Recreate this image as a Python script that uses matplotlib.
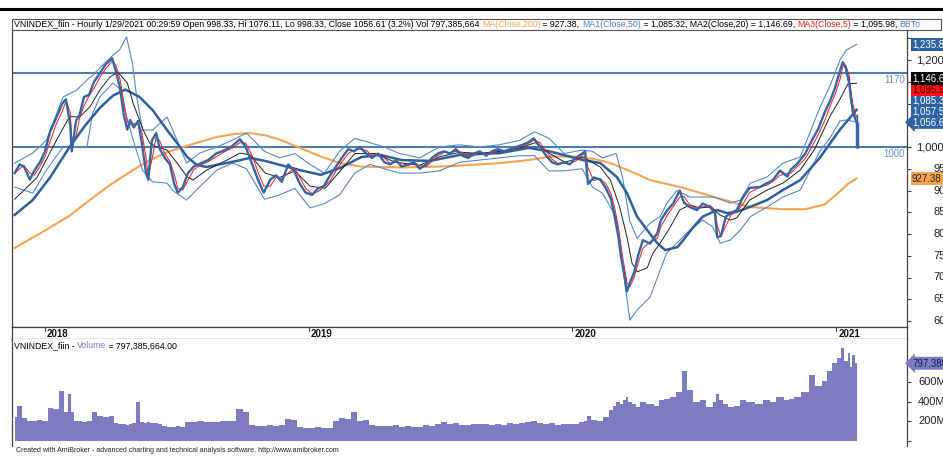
import matplotlib
matplotlib.use('Agg')
import matplotlib.pyplot as plt
import matplotlib.dates as mdates
from matplotlib.lines import Line2D
from matplotlib.patches import Rectangle
import pandas as pd

plt.rcParams['font.family'] = ['Liberation Sans', 'DejaVu Sans']

# ---- data ----
dates = [
    '2017-11-20', '2017-11-27', '2017-12-03', '2017-12-11', '2017-12-17', '2017-12-25',
    '2018-01-01', '2018-01-08', '2018-01-16', '2018-01-25', '2018-01-30', '2018-02-05',
    '2018-02-07', '2018-02-13', '2018-02-18', '2018-02-24', '2018-03-03', '2018-03-10',
    '2018-03-18', '2018-03-26', '2018-04-04', '2018-04-09', '2018-04-15', '2018-04-20',
    '2018-04-25', '2018-04-29', '2018-05-04', '2018-05-10', '2018-05-15', '2018-05-21',
    '2018-05-24', '2018-05-29', '2018-06-04', '2018-06-09', '2018-06-16', '2018-06-23',
    '2018-06-29', '2018-07-04', '2018-07-11', '2018-07-18', '2018-07-26', '2018-08-04',
    '2018-08-15', '2018-08-26', '2018-09-06', '2018-09-17', '2018-09-28', '2018-10-06',
    '2018-10-15', '2018-10-23', '2018-10-31', '2018-11-09', '2018-11-17', '2018-11-25',
    '2018-12-04', '2018-12-12', '2018-12-20', '2018-12-28', '2019-01-06', '2019-01-14',
    '2019-01-22', '2019-01-31', '2019-02-08', '2019-02-16', '2019-02-25', '2019-03-05',
    '2019-03-13', '2019-03-22', '2019-03-30', '2019-04-07', '2019-04-16', '2019-04-24',
    '2019-05-02', '2019-05-10', '2019-05-19', '2019-05-27', '2019-06-04', '2019-06-13',
    '2019-06-21', '2019-06-29', '2019-07-08', '2019-07-16', '2019-07-24', '2019-08-02',
    '2019-08-10', '2019-08-18', '2019-08-26', '2019-09-04', '2019-09-12', '2019-09-20',
    '2019-09-29', '2019-10-07', '2019-10-15', '2019-10-24', '2019-11-01', '2019-11-09',
    '2019-11-18', '2019-11-26', '2019-12-04', '2019-12-12', '2019-12-21', '2019-12-29',
    '2020-01-06', '2020-01-15', '2020-01-19', '2020-01-23', '2020-01-31', '2020-02-09',
    '2020-02-17', '2020-02-24', '2020-02-29', '2020-03-05', '2020-03-09', '2020-03-13',
    '2020-03-17', '2020-03-21', '2020-03-27', '2020-04-01', '2020-04-08', '2020-04-18',
    '2020-04-28', '2020-05-03', '2020-05-12', '2020-05-20', '2020-05-29', '2020-06-04',
    '2020-06-12', '2020-06-22', '2020-06-30', '2020-07-10', '2020-07-17', '2020-07-20',
    '2020-07-25', '2020-08-01', '2020-08-08', '2020-08-16', '2020-08-25', '2020-09-03',
    '2020-09-17', '2020-09-27', '2020-10-05', '2020-10-15', '2020-10-25', '2020-10-30',
    '2020-11-08', '2020-11-19', '2020-11-28', '2020-12-07', '2020-12-16', '2020-12-23',
    '2020-12-30', '2021-01-06', '2021-01-10', '2021-01-14', '2021-01-19', '2021-01-21',
    '2021-01-24', '2021-01-29',
]
close = [
    940, 960, 955, 925, 945, 965,
    990, 1035, 1065, 1100, 1110, 1050,
    990, 1060, 1075, 1115, 1120, 1150,
    1170, 1190, 1204, 1175, 1135, 1075,
    1040, 1062, 1045, 1060, 1010, 940,
    925, 1015, 1032, 995, 975, 960,
    915, 895, 908, 940, 955, 962,
    970, 985, 992, 1002, 1018, 1000,
    960, 925, 895, 925, 935, 920,
    960, 945, 915, 895, 890, 905,
    910, 935, 955, 975, 995, 990,
    1000, 985, 975, 985, 965, 960,
    970, 955, 960, 965, 950, 960,
    975, 985, 990, 985, 995, 980,
    975, 985, 990, 980, 990, 995,
    990, 995, 1000, 1005, 1010, 1020,
    1000, 980, 965, 960, 965, 960,
    975, 985, 990, 915, 930, 925,
    905, 880, 840, 795, 745, 710,
    668, 688, 712, 748, 786, 778,
    802, 832, 855, 870, 900, 872,
    862, 855, 870, 862, 848, 793,
    795, 840, 848, 855, 885, 906,
    908, 917, 924, 946, 932, 948,
    962, 985, 1015, 1042, 1080, 1105,
    1135, 1175, 1195, 1182, 1145, 1115,
    1080, 1056.61,
]
# volume in millions
volume = [
    250, 360, 240, 210, 200, 215,
    205, 340, 330, 510, 300, 480,
    300, 210, 200, 195, 210, 300,
    260, 250, 255, 180, 170, 175,
    165, 170, 180, 400, 190, 180,
    190, 180, 185, 175, 150, 145,
    140, 150, 145, 195, 190, 200,
    195, 190, 200, 200, 330, 300,
    160, 155, 150, 160, 150, 160,
    225, 220, 140, 135, 130, 140,
    130, 135, 200, 240, 230, 300,
    210, 220, 160, 150, 155, 150,
    160, 140, 150, 145, 140, 160,
    155, 170, 190, 175, 180, 160,
    165, 170, 175, 170, 165, 175,
    160, 185, 170, 180, 190, 200,
    185, 175, 180, 160, 170, 175,
    170, 190, 200, 260, 220, 210,
    250, 320, 360, 400, 380, 420,
    450, 400, 380, 350, 400, 380,
    360, 420, 430, 450, 500, 720,
    520, 400, 420, 350, 400, 480,
    420, 380, 350, 360, 420, 400,
    380, 420, 400, 450, 420, 430,
    450, 500, 680, 560, 620, 720,
    800, 850, 950, 820, 900, 760,
    880, 797.385664,
]
last_open, last_high, last_low = 998.33, 1076.11, 998.33
ma5_last = 1095.98

ma200_dates = [
    '2017-11-20', '2018-01-01', '2018-02-04', '2018-03-04', '2018-04-03', '2018-05-03',
    '2018-05-26', '2018-06-19', '2018-07-11', '2018-08-04', '2018-08-27', '2018-09-21',
    '2018-10-12', '2018-11-02', '2018-11-22', '2018-12-20', '2019-01-18', '2019-02-14',
    '2019-03-15', '2019-05-10', '2019-07-19', '2019-09-23', '2019-11-02', '2019-12-01',
    '2020-01-05', '2020-02-02', '2020-02-23', '2020-03-21', '2020-04-18', '2020-06-03',
    '2020-07-20', '2020-09-03', '2020-10-19', '2020-11-19', '2020-12-16', '2021-01-06',
    '2021-01-17', '2021-01-29',
]
ma200 = [
    768, 808, 842, 878, 915, 947,
    970, 988, 1000, 1012, 1023, 1030,
    1032, 1027, 1017, 998, 978, 963,
    955, 953, 956, 963, 970, 978,
    978, 972, 963, 945, 924, 906,
    883, 862, 857, 857, 868, 898,
    915, 927.38,
]

ma50_dates = [
    '2017-11-20', '2017-12-15', '2018-01-08', '2018-02-04', '2018-02-25', '2018-03-18',
    '2018-04-05', '2018-04-22', '2018-05-12', '2018-05-30', '2018-06-19', '2018-07-03',
    '2018-07-17', '2018-07-30', '2018-08-13', '2018-08-27', '2018-09-18', '2018-10-12',
    '2018-11-02', '2018-11-22', '2018-12-20', '2019-01-18', '2019-02-14', '2019-03-15',
    '2019-04-10', '2019-05-10', '2019-06-18', '2019-07-30', '2019-09-23', '2019-11-02',
    '2019-12-01', '2020-01-16', '2020-02-09', '2020-03-03', '2020-03-17', '2020-03-31',
    '2020-04-14', '2020-04-28', '2020-05-09', '2020-05-26', '2020-06-03', '2020-06-17',
    '2020-06-30', '2020-07-20', '2020-08-03', '2020-08-16', '2020-09-03', '2020-09-27',
    '2020-10-19', '2020-11-12', '2020-12-09', '2021-01-06', '2021-01-29',
]
ma50 = [
    844, 878, 930, 1000, 1048, 1090,
    1118, 1132, 1115, 1085, 1039, 1009,
    977, 959, 954, 959, 966, 975,
    968, 959, 947, 936, 952, 977,
    982, 970, 968, 982, 986, 998,
    990, 970, 963, 931, 894, 840,
    809, 779, 763, 770, 786, 816,
    840, 855, 848, 851, 862, 878,
    901, 924, 975, 1040, 1085.32,
]

ma20_dates = [
    '2017-11-20', '2017-12-21', '2018-01-17', '2018-02-04', '2018-02-18', '2018-03-04',
    '2018-03-18', '2018-04-01', '2018-04-12', '2018-04-25', '2018-05-03', '2018-05-17',
    '2018-05-26', '2018-06-05', '2018-06-19', '2018-07-03', '2018-07-17', '2018-07-25',
    '2018-08-13', '2018-09-10', '2018-09-28', '2018-10-12', '2018-11-02', '2018-11-22',
    '2018-12-13', '2019-01-03', '2019-01-24', '2019-02-14', '2019-03-06', '2019-04-03',
    '2019-05-01', '2019-06-04', '2019-07-02', '2019-07-30', '2019-08-26', '2019-09-23',
    '2019-10-21', '2019-11-11', '2019-12-01', '2019-12-22', '2020-01-16', '2020-02-09',
    '2020-02-23', '2020-03-07', '2020-03-17', '2020-03-24', '2020-03-31', '2020-04-14',
    '2020-04-22', '2020-05-02', '2020-05-16', '2020-05-29', '2020-06-12', '2020-06-26',
    '2020-07-10', '2020-07-24', '2020-08-07', '2020-08-16', '2020-09-03', '2020-09-27',
    '2020-10-19', '2020-11-12', '2020-12-02', '2020-12-23', '2021-01-06', '2021-01-17',
    '2021-01-29',
]
ma20 = [
    880, 930, 1016, 1070, 1069, 1092,
    1131, 1161, 1172, 1147, 1101, 1039,
    1009, 1000, 993, 963, 931, 924,
    947, 970, 986, 982, 940, 930,
    945, 910, 905, 945, 985, 985,
    965, 958, 978, 988, 985, 990,
    998, 1010, 985, 965, 977, 954,
    924, 862, 793, 733, 713, 722,
    756, 779, 816, 855, 867, 860,
    862, 844, 832, 837, 878, 901,
    917, 947, 995, 1070, 1110, 1145,
    1146.69,
]

bb_dates = [
    '2017-11-20', '2017-12-15', '2018-01-03', '2018-01-26', '2018-02-14', '2018-02-28',
    '2018-03-08', '2018-03-18', '2018-04-05', '2018-04-14', '2018-04-24', '2018-05-02',
    '2018-05-08', '2018-05-16', '2018-05-30', '2018-06-19', '2018-06-27', '2018-07-16',
    '2018-08-03', '2018-08-27', '2018-09-18', '2018-10-07', '2018-11-01', '2018-11-22',
    '2018-12-13', '2019-01-03', '2019-01-23', '2019-02-13', '2019-03-06', '2019-03-27',
    '2019-04-16', '2019-05-07', '2019-06-04', '2019-07-01', '2019-07-29', '2019-08-26',
    '2019-09-22', '2019-10-20', '2019-11-10', '2019-11-30', '2019-12-21', '2020-01-15',
    '2020-01-29', '2020-02-12', '2020-03-02', '2020-03-11', '2020-03-21', '2020-03-31',
    '2020-04-18', '2020-05-02', '2020-05-11', '2020-05-25', '2020-06-12', '2020-06-30',
    '2020-07-14', '2020-07-24', '2020-08-07', '2020-08-21', '2020-09-04', '2020-09-27',
    '2020-10-19', '2020-11-12', '2020-12-09', '2020-12-23', '2021-01-06', '2021-01-15',
    '2021-01-29',
]
bb_top = [
    963, 986, 1016, 1115, 1131, 1154,
    1165, 1182, 1211, 1223, 1253, 1193,
    1115, 1039, 1039, 1069, 1039, 963,
    986, 1000, 1016, 1032, 990, 975,
    985, 960, 940, 990, 1020, 1010,
    1000, 985, 975, 1000, 1005, 1000,
    1005, 1015, 1035, 1020, 985, 993,
    990, 975, 985, 930, 830, 790,
    825, 840, 870, 900, 885, 885,
    885, 880, 871, 878, 917, 931,
    963, 977, 1090, 1140, 1200, 1223,
    1235.8,
]
bb_bot = [
    908, 894, 947, 1000, 1000, 1000,
    1078, 1115, 1147, 1135, 1070, 1023,
    990, 947, 920, 917, 900, 878,
    908, 947, 963, 950, 880, 890,
    905, 860, 870, 890, 940, 960,
    950, 940, 940, 945, 965, 970,
    975, 980, 980, 945, 945, 950,
    908, 894, 840, 724, 602, 625,
    655, 717, 756, 779, 809, 832,
    816, 779, 786, 809, 840, 862,
    885, 901, 990, 1020, 1060, 1062,
    1057.5,
]

levels = [1170, 1000]
price_ticks = [600, 650, 700, 750, 800, 850, 900, 950, 1000, 1050, 1100, 1150, 1200, 1250]
vol_ticks = [0, 200, 400, 600]
vol_tick_labels = ['', '200M', '400M', '600M']
years = ['2018', '2019', '2020', '2021']

# ---- layout helpers (pixel based, 943 x 457) ----
W, H = 943, 457
fig = plt.figure(figsize=(W / 100, H / 100), dpi=100)
fig.patch.set_facecolor('white')


def px_box(x0, y0, x1, y1):
    return [x0 / W, 1 - y1 / H, (x1 - x0) / W, (y1 - y0) / H]


def fy(y_px):
    return 1 - y_px / H


BLUE = '#3465a6'
BAND = '#5a88c4'
ORANGE = '#f9a351'
RED = '#ff1a1a'
PURPLE = '#7c7cc0'
FRAME = '#444444'

d = pd.to_datetime(dates)
t0 = mdates.date2num(pd.Timestamp('2018-01-01'))
xlim = (t0 - 33 * 1.385, t0 + 862 * 1.385)

ax = fig.add_axes(px_box(12, 30, 907, 327))
strip = fig.add_axes(px_box(12, 327, 907, 339))
vax = fig.add_axes(px_box(12, 339, 907, 446))

# ---- price panel ----
for lv in levels:
    ax.axhline(lv, color='#4d7db8', lw=1.5, zorder=1)
    ax.annotate(str(lv), xy=(905, lv), xycoords=('figure pixels', 'data'),
                xytext=(0, -1.5), textcoords='offset points',
                ha='right', va='top', fontsize=7, color='#6f8fc4',
                annotation_clip=False)

ax.plot(pd.to_datetime(ma200_dates), ma200, color=ORANGE, lw=1.5, zorder=2)
ax.plot(pd.to_datetime(bb_dates), bb_top, color=BAND, lw=0.8, zorder=3)
ax.plot(pd.to_datetime(bb_dates), bb_bot, color=BAND, lw=0.8, zorder=3)
ax.plot(pd.to_datetime(ma50_dates), ma50, color='#2f5f9e', lw=1.8, zorder=4)
ax.plot(pd.to_datetime(ma20_dates), ma20, color='#222222', lw=0.7, zorder=5)

ma5 = pd.Series(close).rolling(2, min_periods=1).mean()
ax.plot(d, ma5, color=RED, lw=0.7, zorder=6)
ax.plot(d, close, color=BLUE, lw=1.7, zorder=7)
ax.vlines(d[-1], last_low, last_high, color=BLUE, lw=1.0, zorder=7)
ax.vlines(d[-1], last_open, close[-1], color=BLUE, lw=2.5, zorder=7)

ax.set_xlim(xlim)
ax.set_ylim(586.2, 1269)
ax.set_xticks([])
ax.yaxis.tick_right()
ax.set_yticks(price_ticks)
ax.tick_params(axis='y', length=3, width=0.8, colors=FRAME, labelright=False)
for side in ['left', 'right', 'bottom']:
    ax.spines[side].set_color(FRAME)
    ax.spines[side].set_linewidth(0.9)
ax.spines['top'].set_visible(False)


def price_to_px(p):
    y0, y1 = 30, 327
    lo, hi = ax.get_ylim()
    return y0 + (hi - p) / (hi - lo) * (y1 - y0)


# value boxes on the right axis, stacked upward from the close
stack = [
    (close[-1], '#2d62a6', 'white', True),
    (bb_bot[-1], '#2d62a6', 'white', False),
    (ma50[-1], '#2d62a6', 'white', False),
    (ma5_last, '#ff1010', '#3a0000', False),
    (ma20[-1], 'black', 'white', False),
]
box_px = []
prev = None
for val, bg, fg, arrow in stack:
    ypx = price_to_px(val)
    if prev is not None:
        ypx = min(ypx, prev - 11)
    prev = ypx
    box_px.append(ypx)
    style = 'larrow,pad=0.15' if arrow else 'square,pad=0.15'
    fig.text(912 / W, fy(ypx), f'{val:,.2f}', fontsize=7, color=fg, ha='left',
             va='center', zorder=10,
             bbox=dict(boxstyle=style, fc=bg, ec=bg, lw=0))

for val, bg, fg in [(bb_top[-1], '#2d62a6', 'white'), (ma200[-1], ORANGE, '#222222')]:
    ypx = price_to_px(val)
    box_px.append(ypx)
    fig.text(912 / W, fy(ypx), f'{val:,.2f}', fontsize=7, color=fg,
             ha='left', va='center', zorder=10,
             bbox=dict(boxstyle='square,pad=0.15', fc=bg, ec=bg, lw=0))

# tick labels that are not hidden behind a value box
for v in price_ticks:
    ty = price_to_px(v)
    if any(abs(ty - b) < 8 for b in box_px):
        continue
    x_lab = 916 if v >= 1000 else 933
    fig.text(x_lab / W, fy(ty), f'{v:,}', ha='left', va='center',
             fontsize=8, color='#222222')

# ---- year strip ----
strip.set_xlim(xlim)
strip.set_ylim(0, 1)
strip.set_xticks([])
strip.set_yticks([])
for side in strip.spines.values():
    side.set_color(FRAME)
    side.set_linewidth(0.9)
for y in years:
    yd = mdates.date2num(pd.Timestamp(y + '-01-01'))
    strip.plot([yd, yd], [1, 0.65], color=FRAME, lw=0.8)
    strip.annotate(y, xy=(yd, 0.45), xytext=(1.5, 0), textcoords='offset points',
                   ha='left', va='center', fontsize=7, fontweight='bold',
                   color='#111111')

# ---- volume panel ----
vax.fill_between(d, volume, step='mid', color=PURPLE, lw=0)
vax.set_xlim(xlim)
vax.set_ylim(-51.3, 1046)
vax.set_xticks([])
vax.yaxis.tick_right()
vax.set_yticks(vol_ticks)
vax.tick_params(axis='y', length=3, width=0.8, colors=FRAME, labelright=False)
for side in ['left', 'right']:
    vax.spines[side].set_color(FRAME)
    vax.spines[side].set_linewidth(0.9)
vax.spines['top'].set_visible(False)
vax.spines['bottom'].set_visible(False)
for v, lab in zip(vol_ticks, vol_tick_labels):
    vax.annotate(lab, xy=(918, v), xycoords=('figure pixels', 'data'),
                 ha='left', va='center', fontsize=8, color='#222222',
                 annotation_clip=False)
vol_y = 339 + (1046 - volume[-1]) / (1046 + 51.3) * (446 - 339)
fig.text(912 / W, fy(vol_y), f'{volume[-1] * 1e6:,.0f}', fontsize=7,
         color='#1c1c55', ha='left', va='center', zorder=10,
         bbox=dict(boxstyle='larrow,pad=0.15', fc=PURPLE, ec=PURPLE, lw=0))

# ---- titles ----
renderer = fig.canvas.get_renderer()


def width_px(s, size):
    t = fig.text(0, 0, s + '|', fontsize=size)
    w1 = t.get_window_extent(renderer).width
    t.set_text('|')
    w2 = t.get_window_extent(renderer).width
    t.remove()
    return w1 - w2


def colored_line(x_px, y_px, pieces, size):
    x = x_px
    for s, c in pieces:
        fig.text(x / W, fy(y_px), s, color=c, fontsize=size, ha='left',
                 va='center', zorder=12)
        x += width_px(s, size)


fig.add_artist(Line2D([0, 1], [fy(8.5), fy(8.5)], color='black', lw=2.2,
                      transform=fig.transFigure))
fig.add_artist(Rectangle((12 / W, fy(30)), (941 - 12) / W, 11 / H,
                         transform=fig.transFigure, fc='white', ec='#555555',
                         lw=0.8, zorder=11))

title_size = 6.3
colored_line(14, 24.5, [
    ('VNINDEX_fiin - Hourly 1/29/2021 00:29:59 Open 998.33, Hi 1076.11, '
     'Lo 998.33, Close 1056.61 (3.2%) Vol 797,385,664 ', 'black'),
    ('MA(Close,200)', ORANGE),
    (' = 927.38, ', 'black'),
    ('MA1(Close,50)', '#4f7fc6'),
    (' = 1,085.32, MA2(Close,20) = 1,146.69, ', 'black'),
    ('MA3(Close,5)', RED),
    (' = 1,095.98, ', 'black'),
    ('BBTo', '#4f7fc6'),
], title_size)

colored_line(14, 346, [
    ('VNINDEX_fiin - ', 'black'),
    ('Volume', PURPLE),
    (' = 797,385,664.00', 'black'),
], title_size)

fig.text(16 / W, fy(450.5), 'Created with AmiBroker - advanced charting and technical '
         'analysis software. http://www.amibroker.com', fontsize=5, color='#222222',
         ha='left', va='center')

fig.savefig('out.png', dpi=100)
